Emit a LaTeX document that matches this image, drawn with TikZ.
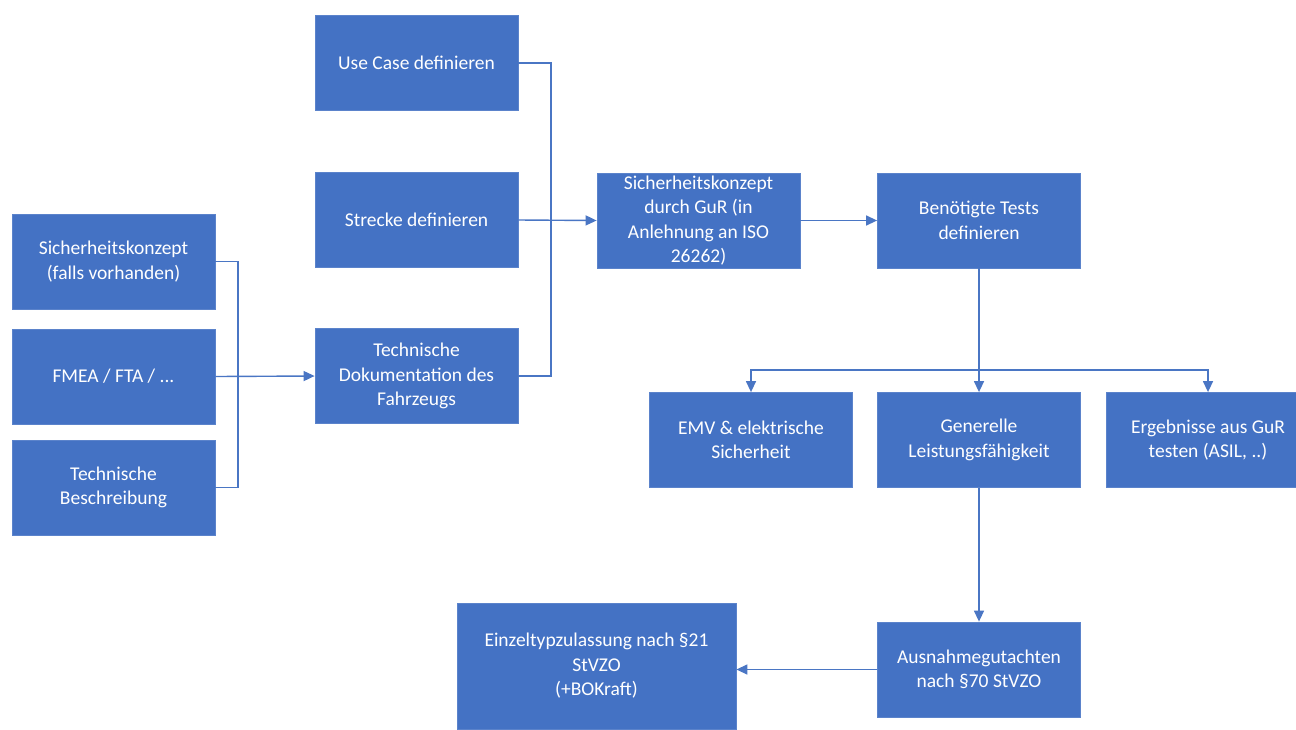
\documentclass[tikz,border=0pt]{standalone}
\usepackage{fontspec}
\setmainfont{Carlito}
\usetikzlibrary{arrows.meta}
\definecolor{boxblue}{HTML}{4472C4}
\definecolor{boxedge}{HTML}{5B83CB}
\definecolor{linkblue}{HTML}{4A76C4}
\tikzset{
  stepbox/.style={rectangle, fill=boxblue, draw=boxedge, line width=0.8pt,
    text=white, align=center, inner sep=2pt,
    minimum width=203pt, minimum height=95pt,
    font=\fontsize{19.5pt}{24.5pt}\selectfont},
  link/.style={draw=linkblue, line width=1.4pt},
  arrowlink/.style={link, -{Triangle[length=11pt,width=10pt]}}
}
\begin{document}
\begin{tikzpicture}[x=1pt, y=-1pt]
  \clip (0,0) rectangle (1296,729);
  \fill[white] (0,0) rectangle (1296,729);

  % left column: existing documents
  \node[stepbox] (sk)   at (113.5,261.5) {Sicherheitskonzept\\(falls vorhanden)};
  \node[stepbox] (fmea) at (113.5,376.5) {FMEA / FTA / ...};
  \node[stepbox] (tb)   at (113.5,487.5) {Technische\\Beschreibung};

  % second column: definitions
  \node[stepbox] (uc)  at (416.5,63)  {Use Case definieren};
  \node[stepbox] (str) at (416.5,220) {Strecke definieren};
  \node[stepbox] (td)  at (416.5,376) {Technische\\Dokumentation des\\Fahrzeugs};

  % safety concept and test definition
  \node[stepbox] (gur) at (698.5,220.5) {Sicherheitskonzept\\durch GuR (in\\Anlehnung an ISO\\26262)};
  \node[stepbox] (bt)  at (979,220.5)   {Benötigte Tests\\definieren};

  % test groups
  \node[stepbox] (emv) at (751,440)  {EMV \& elektrische\\Sicherheit};
  \node[stepbox] (gen) at (979,440)  {Generelle\\Leistungsfähigkeit};
  \node[stepbox] (erg) at (1208,440) {Ergebnisse aus GuR\\testen (ASIL, ..)};

  % approval
  \node[stepbox] (aus) at (979,669.5) {Ausnahmegutachten\\nach §70 StVZO};
  \node[stepbox, minimum width=279pt, minimum height=126pt] (ein) at (596.5,666)
    {Einzeltypzulassung nach §21\\StVZO\\(+BOKraft)};

  % junction points of the elbow connectors
  \coordinate (jl) at (238,376.5);
  \coordinate (jm) at (551,220);
  \coordinate (jb) at (979,370);

  % documents into technical documentation
  \draw[link] (sk.east) -| (jl) |- (tb.east);
  \draw[arrowlink] (fmea.east) -- (td.west);

  % definitions into safety concept
  \draw[link] (uc.east) -| (jm) |- (td.east);
  \draw[arrowlink] (str.east) -- (gur.west);

  \draw[arrowlink] (gur.east) -- (bt.west);

  % fan-out to the test groups
  \draw[arrowlink] (bt.south) -- (gen.north);
  \draw[arrowlink] (jb) -| (emv.north);
  \draw[arrowlink] (jb) -| (erg.north);

  \draw[arrowlink] (gen.south) -- (aus.north);
  \draw[arrowlink] (aus.west) -- (aus.west -| ein.east);
\end{tikzpicture}
\end{document}
